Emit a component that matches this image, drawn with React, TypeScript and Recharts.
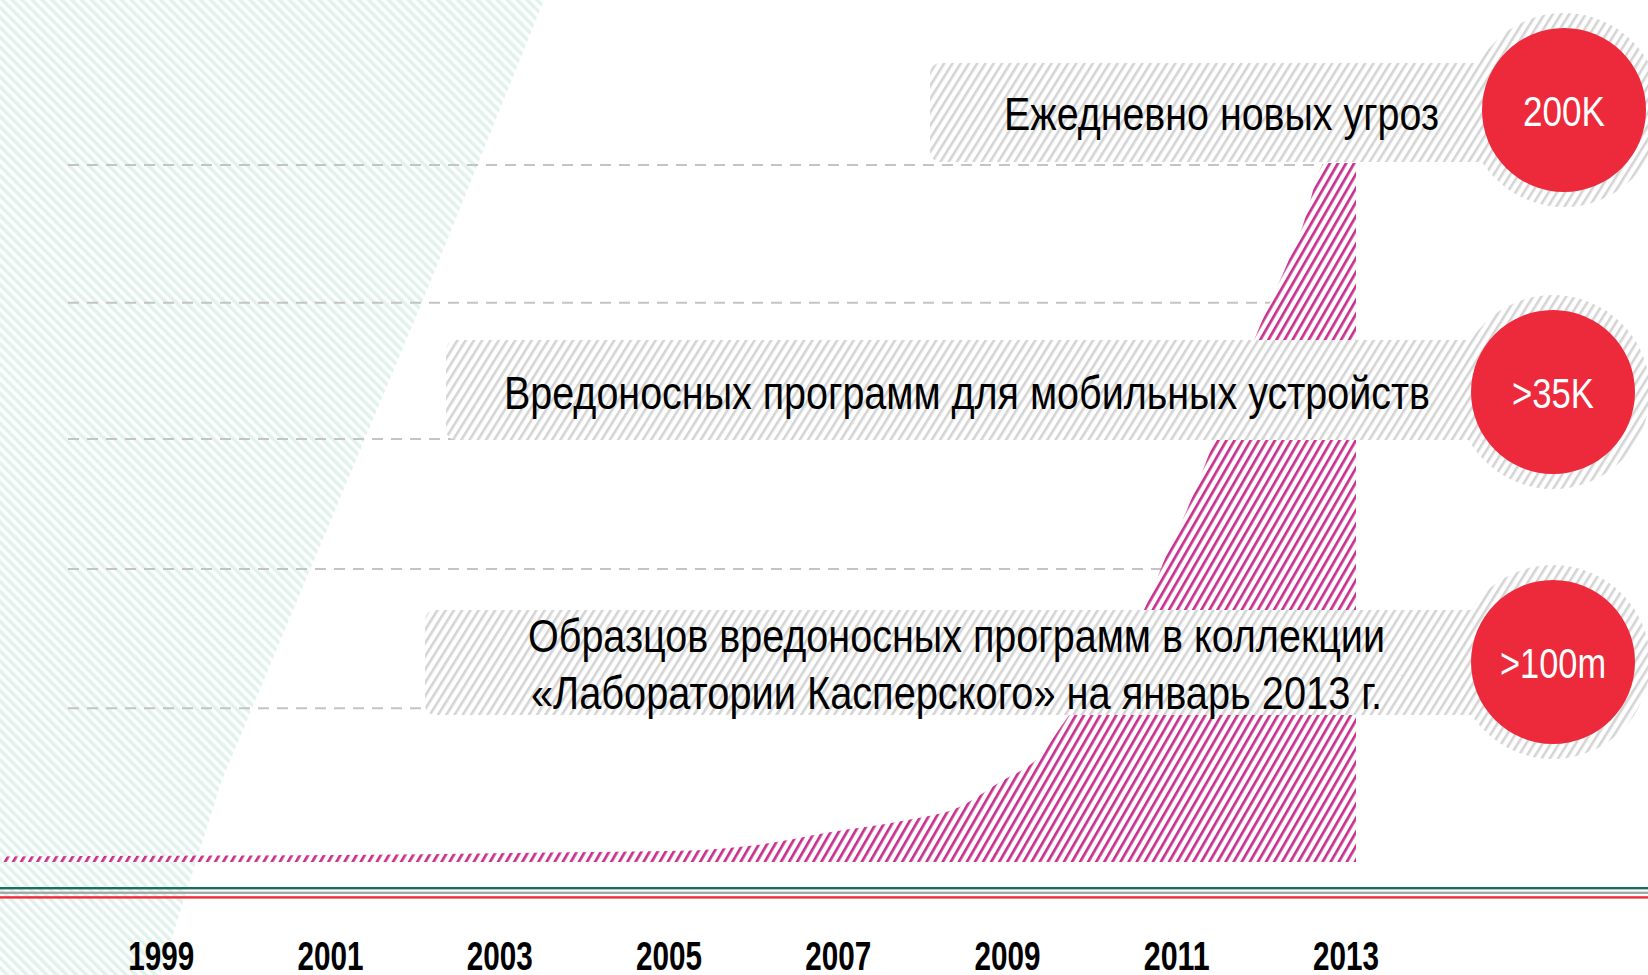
import React from "react";
import { AreaChart, Area, XAxis, YAxis, ReferenceLine } from "recharts";

// growth curve (index 0..100 of the plot height)
const years = [
  1997, 1999, 2001, 2003, 2005, 2005.9, 2006.8, 2007.7, 2008.3, 2008.8, 2009.25,
  2009.55, 2010, 2010.5, 2010.75, 2011, 2011.32, 2011.8, 2012.37, 2012.64, 2013,
];
const threatIndex = [
  0.8, 0.9, 1.0, 1.3, 1.6, 2.4, 4.3, 6.0, 7.8, 11.5, 15, 20, 28, 36.2, 43.6, 50.3,
  60.1, 74.8, 91, 100, 100,
];
const yearTicks = [1999, 2001, 2003, 2005, 2007, 2009, 2011, 2013];
const guideLevels = [99.7, 80, 60.5, 41.9, 22];

const calloutTexts = [
  ["Ежедневно новых угроз"],
  ["Вредоносных программ для мобильных устройств"],
  ["Образцов вредоносных программ в коллекции", "«Лаборатории Касперского» на январь 2013 г."],
];
const calloutValues = ["200K", ">35K", ">100m"];

const data = years.map((year, i) => ({ year, value: threatIndex[i] }));

const W = 1648;
const H = 975;
const FONT = "'Liberation Sans', Arial, sans-serif";

// callout boxes (pixels); text is squeezed to the narrow face of the original
const boxLayout = [
  { x: 930, y: 63, w: 634, h: 99, cx: 1564, cy: 110, valueW: 82,
    lines: [{ x: 1004, y: 130, w: 435 }] },
  { x: 446, y: 340, w: 1107, h: 100, cx: 1553, cy: 392, valueW: 82,
    lines: [{ x: 504, y: 409, w: 926 }] },
  { x: 425, y: 610, w: 1128, h: 105, cx: 1553, cy: 662, valueW: 106,
    lines: [{ x: 528, y: 652, w: 857 }, { x: 531, y: 709, w: 851 }] },
];

const FitText = ({ x, y, width, size, weight = 400, fill = "#000", children }: any) => (
  <text
    x={x}
    y={y}
    textLength={width}
    lengthAdjust="spacingAndGlyphs"
    fontFamily={FONT}
    fontSize={size}
    fontWeight={weight}
    fill={fill}
  >
    {children}
  </text>
);

const YearTick = ({ x, y, payload }: any) => (
  <FitText x={x - 10 - 33} y={y + 108} width={66} size={41} weight={700}>
    {payload.value}
  </FitText>
);

const Background = () => (
  <svg width={W} height={H} style={{ position: "absolute", left: 0, top: 0 }}>
    <defs>
      <pattern
        id="mintHatch"
        patternUnits="userSpaceOnUse"
        width={7}
        height={7}
        patternTransform="rotate(-45)"
      >
        <rect width={7} height={7} fill="#fff" />
        <rect width={3.5} height={7} fill="#e0f2eb" />
      </pattern>
    </defs>
    <polygon points="0,0 544,0 423,300 222,780 160,975 0,975" fill="url(#mintHatch)" />
    <rect x={0} y={887} width={W} height={2.4} fill="#17705a" />
    <rect x={0} y={891.6} width={W} height={2.4} fill="#a8a8a8" />
    <rect x={0} y={896.2} width={W} height={2.4} fill="#ee2c3c" />
  </svg>
);

const Callouts = () => (
  <svg
    width={W}
    height={H}
    style={{ position: "absolute", left: 0, top: 0, pointerEvents: "none" }}
  >
    <defs>
      <pattern
        id="greyHatch"
        patternUnits="userSpaceOnUse"
        width={7}
        height={7}
        patternTransform="rotate(32)"
      >
        <rect width={7} height={7} fill="#fff" />
        <rect width={2.6} height={7} fill="#d4d4d4" />
      </pattern>
    </defs>
    {boxLayout.map((b, i) => (
      <g key={i}>
        <rect x={b.x} y={b.y} width={b.w} height={b.h} rx={10} fill="url(#greyHatch)" />
        <circle cx={b.cx} cy={b.cy} r={97} fill="url(#greyHatch)" />
        <circle cx={b.cx} cy={b.cy} r={82} fill="#ed2a3b" />
        <FitText
          x={b.cx - b.valueW / 2}
          y={b.cy + 16}
          width={b.valueW}
          size={42}
          fill="#fff"
        >
          {calloutValues[i]}
        </FitText>
        {calloutTexts[i].map((line, j) => (
          <FitText key={j} x={b.lines[j].x} y={b.lines[j].y} width={b.lines[j].w} size={47}>
            {line}
          </FitText>
        ))}
      </g>
    ))}
  </svg>
);

export default function App() {
  return (
    <div
      style={{
        position: "relative",
        width: W,
        height: H,
        overflow: "hidden",
        background: "#fff",
      }}
    >
      <style>{"html,body{margin:0;padding:0;overflow:hidden}"}</style>
      <Background />
      <div style={{ position: "absolute", left: 0, top: 0 }}>
        <AreaChart
          width={W}
          height={H}
          data={data}
          margin={{ top: 163, right: 292, bottom: 0, left: 2 }}
        >
          <defs>
            <pattern
              id="pinkHatch"
              patternUnits="userSpaceOnUse"
              width={7}
              height={7}
              patternTransform="rotate(30)"
            >
              <rect width={7} height={7} fill="#fff" />
              <rect width={2.7} height={7} fill="#c92f8c" />
            </pattern>
          </defs>
          <XAxis
            type="number"
            dataKey="year"
            domain={[1997, 2013]}
            ticks={yearTicks}
            interval={0}
            axisLine={false}
            tickLine={false}
            tickSize={0}
            tickMargin={0}
            height={113}
            tick={<YearTick />}
          />
          <YAxis hide domain={[0, 100]} />
          {guideLevels.map((v) => (
            <ReferenceLine
              key={v}
              segment={[
                { x: 1997.78, y: v },
                { x: 2013, y: v },
              ]}
              stroke="#c4c4c4"
              strokeWidth={2}
              strokeDasharray="11 8"
              zIndex={50}
            />
          ))}
          <Area
            type="monotone"
            dataKey="value"
            stroke="none"
            fill="url(#pinkHatch)"
            fillOpacity={1}
            baseValue={0}
            isAnimationActive={false}
          />
        </AreaChart>
      </div>
      <Callouts />
    </div>
  );
}
